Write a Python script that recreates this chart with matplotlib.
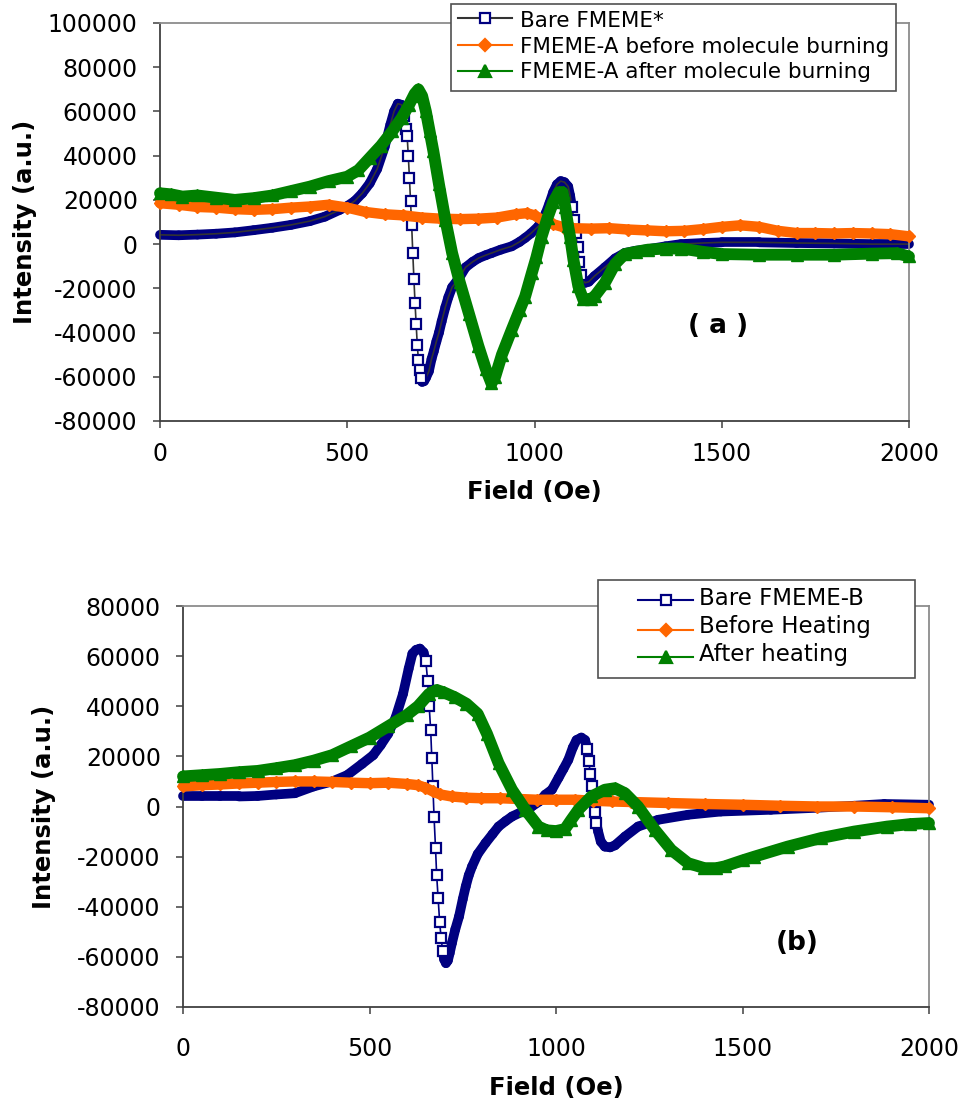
import numpy as np
import matplotlib
matplotlib.use("Agg")
import matplotlib.pyplot as plt
from matplotlib.collections import LineCollection
from matplotlib.lines import Line2D
from matplotlib.patches import Rectangle

# ---------------- panel (a) ----------------
field_a_bare = [0, 50, 100, 150, 200, 250, 300, 350, 400, 440, 480, 500, 520, 540, 560, 580,
                600, 615, 625, 635, 645, 652, 656, 660, 663, 666, 669, 672, 675, 678, 681, 684,
                687, 690, 693, 696, 700, 705, 710, 718, 725, 731, 738, 745, 752, 762, 770, 780,
                800, 816, 835, 851, 870, 886, 910, 939, 960, 975, 990, 1010, 1020, 1030, 1040,
                1050, 1060, 1070, 1080, 1090, 1095, 1100, 1105, 1110, 1115, 1120, 1125, 1135,
                1145, 1160, 1188, 1215, 1241, 1270, 1303, 1350, 1391, 1450, 1500, 1600, 1700,
                1800, 1900, 2000]
intensity_a_bare = [4200, 4000, 4300, 4700, 5300, 6300, 7400, 8700, 10400, 12400, 15500, 17200,
                    19500, 23000, 27500, 34000, 44000, 54000, 60000, 63500, 63000, 58000, 52000,
                    48700, 40000, 30100, 19300, 8700, -4100, -15800, -26700, -36200, -45600,
                    -52400, -57000, -60500, -62300, -62000, -60500, -57500, -52000, -48500,
                    -44000, -40000, -35000, -28500, -24000, -19500, -15000, -10500, -8000, -6300,
                    -5000, -4000, -2500, -1000, 1000, 2800, 4800, 8000, 10500, 14000, 18500,
                    23500, 27000, 28500, 28000, 26000, 22000, 17000, 11000, 5000, -1500, -8000,
                    -14000, -17500, -17000, -14500, -10500, -6500, -4000, -3000, -2300, -1000, 0,
                    500, 800, 800, 500, 300, 0, 0]

field_a_before = [0, 50, 100, 150, 200, 250, 300, 350, 400, 450, 500, 550, 600, 650, 700, 750,
                  800, 850, 900, 950, 980, 1000, 1020, 1050, 1080, 1100, 1150, 1200, 1250, 1300,
                  1350, 1400, 1450, 1500, 1550, 1600, 1650, 1700, 1750, 1800, 1850, 1900, 1950,
                  2000]
intensity_a_before = [18500, 17800, 16800, 16500, 15800, 15500, 15800, 16500, 17000, 17800,
                      16500, 14500, 13500, 13000, 12000, 11500, 11300, 11500, 12000, 13500,
                      14000, 13000, 11000, 9000, 7500, 7200, 7000, 7200, 6600, 6200, 5800, 6000,
                      6800, 7800, 8500, 7800, 6000, 5000, 5000, 4800, 5000, 4800, 4500, 3500]

field_a_after = [0, 30, 60, 100, 150, 200, 250, 300, 350, 400, 450, 500, 530, 560, 590, 620, 645,
                 665, 680, 690, 700, 710, 720, 730, 745, 762, 780, 800, 825, 850, 870, 885, 895,
                 913, 939, 960, 975, 993, 1005, 1019, 1035, 1050, 1065, 1075, 1082, 1090, 1095,
                 1104, 1117, 1130, 1150, 1161, 1188, 1215, 1241, 1270, 1303, 1350, 1392, 1450,
                 1500, 1600, 1700, 1800, 1900, 1968, 2000]
intensity_a_after = [23000, 22500, 21500, 22000, 21000, 20000, 20800, 22000, 24000, 26000, 28500,
                     30500, 33500, 39000, 44500, 51000, 57000, 63000, 68000, 70000, 67000, 60000,
                     51000, 42000, 27000, 11000, -4000, -17000, -31500, -46000, -56500, -63000,
                     -60000, -50000, -38800, -30000, -23700, -13000, -6000, 3400, 12000, 19000,
                     23500, 23500, 17000, 8000, 3400, -7100, -19000, -25000, -24800, -23500,
                     -17500, -9000, -4500, -3500, -2500, -2000, -2000, -3500, -4500, -4800, -4800,
                     -4800, -4300, -4100, -5600]

# ---------------- panel (b) ----------------
field_b_bare = [0, 50, 100, 150, 200, 250, 300, 350, 400, 440, 480, 510, 530, 550, 570, 590, 605,
                615, 625, 635, 645, 651, 656, 660, 664, 667, 670, 673, 677, 680, 684, 688, 692,
                696, 700, 705, 710, 715, 721, 730, 740, 750, 758, 766, 775, 790, 811, 830, 846,
                865, 882, 910, 935, 955, 971, 989, 1007, 1020, 1033, 1045, 1055, 1068, 1078,
                1084, 1088, 1092, 1096, 1100, 1104, 1108, 1113, 1120, 1131, 1145, 1158, 1185,
                1220, 1274, 1354, 1442, 1576, 1700, 1800, 1880, 2000]
intensity_b_bare = [4000, 4000, 4000, 4000, 4200, 4800, 5300, 8000, 10000, 12500, 17000, 20500,
                    24500, 29000, 35500, 45000, 55000, 61000, 62500, 63000, 61500, 58000, 50000,
                    40000, 30600, 19300, 8000, -4000, -16600, -27300, -36600, -46000, -52500,
                    -57500, -61000, -62500, -61500, -58500, -54500, -49000, -43900, -37000,
                    -31900, -27500, -23900, -19000, -14600, -11000, -8000, -5800, -4000, -2000, 0,
                    2000, 4700, 6700, 11500, 15000, 18600, 23500, 26500, 27500, 26500, 23000,
                    18000, 13000, 8000, 3000, -2000, -6500, -10000, -14000, -16000, -16300,
                    -15500, -12000, -8000, -5300, -3300, -2000, -1300, -500, 300, 1000, 700]

field_b_before = [0, 50, 100, 150, 200, 250, 300, 350, 400, 450, 500, 550, 600, 630, 650, 670,
                  690, 720, 760, 800, 850, 900, 950, 1000, 1050, 1100, 1150, 1200, 1300, 1400,
                  1500, 1600, 1700, 1800, 1900, 2000]
intensity_b_before = [8000, 8500, 8800, 9200, 9500, 9800, 10000, 10000, 9800, 9500, 9300, 9500,
                      9000, 8500, 7500, 6000, 4800, 4000, 3500, 3300, 3300, 3000, 2700, 2700,
                      2700, 2300, 2000, 1800, 1400, 1000, 700, 300, 0, 0, -300, -700]

field_b_after = [0, 50, 100, 150, 200, 250, 300, 350, 400, 450, 500, 550, 600, 630, 660, 680,
                 700, 730, 760, 790, 815, 846, 882, 918, 953, 975, 1000, 1024, 1040, 1060, 1095,
                 1131, 1158, 1185, 1220, 1265, 1309, 1354, 1398, 1430, 1452, 1500, 1532, 1621,
                 1710, 1799, 1888, 1950, 2000]
intensity_b_after = [12000, 12500, 13000, 13700, 14200, 15300, 16500, 18300, 20500, 24000, 27500,
                     32000, 36500, 40000, 45000, 46500, 45500, 43500, 41000, 37000, 29000, 17300,
                     6700, -1300, -8000, -9500, -9800, -9000, -5500, -1300, 4000, 6700, 7300,
                     5300, 0, -9300, -17300, -22600, -24600, -24600, -23900, -21500, -20000,
                     -16000, -12600, -10000, -8000, -7000, -6600]

labels_a = ["Bare FMEME*", "FMEME-A before molecule burning", "FMEME-A after molecule burning"]
labels_b = ["Bare FMEME-B", "Before Heating", "After heating"]
x_ticks = [0, 500, 1000, 1500, 2000]
y_ticks_a = list(range(-80000, 100001, 20000))
y_ticks_b = list(range(-80000, 80001, 20000))

NAVY = "#000080"
ORANGE = "#FF6600"
GREEN = "#008000"
DARK = "#404040"
GREY = "#8c8c8c"

W, H = 964, 1111
plt.rcParams["font.family"] = ["DejaVu Sans"]
fig = plt.figure(figsize=(W / 100, H / 100), dpi=100)
fig.patch.set_facecolor("white")


def px_box(left, top, right, bottom):
    return [left / W, 1 - bottom / H, (right - left) / W, (bottom - top) / H]


def setup_axes(box, yticks, ylim, xpad, ylab_x, xlab_y):
    ax = fig.add_axes(px_box(*box))
    ax.set_xlim(0, 2000)
    ax.set_ylim(*ylim)
    ax.set_xticks(x_ticks)
    ax.set_xticklabels([str(t) for t in x_ticks])
    ax.set_yticks(yticks)
    ax.set_yticklabels([str(t) for t in yticks])
    for side in ("left", "bottom"):
        ax.spines[side].set_color(DARK)
        ax.spines[side].set_linewidth(1.3)
    for side in ("top", "right"):
        ax.spines[side].set_color(GREY)
        ax.spines[side].set_linewidth(1.3)
    ax.tick_params(axis="both", direction="out", length=5, width=1.1, color=DARK,
                   labelsize=17, labelcolor="black")
    ax.tick_params(axis="y", pad=11)
    ax.tick_params(axis="x", pad=xpad)
    ax.set_xlabel("Field (Oe)", fontsize=17.5, fontweight="bold")
    ax.set_ylabel("Intensity (a.u.)", fontsize=17.5, fontweight="bold")
    ax.xaxis.set_label_coords(0.5, xlab_y)
    ax.xaxis.label.set_va("center")
    ax.yaxis.set_label_coords(ylab_x, 0.5)
    ax.yaxis.label.set_va("center")
    return ax


def draw_bare(ax, x, y, line_color):
    """Hollow squares: where neighbouring points overlap they merge into a solid band."""
    x = np.asarray(x, float)
    y = np.asarray(y, float)
    pts = ax.transData.transform(np.column_stack([x, y]))
    dxp = np.abs(np.diff(pts[:, 0]))
    dyp = np.abs(np.diff(pts[:, 1]))
    steep = dyp / np.maximum(dxp, 1e-6) > 6
    segs = np.stack([np.column_stack([x[:-1], y[:-1]]),
                     np.column_stack([x[1:], y[1:]])], axis=1)
    band = LineCollection(segs[~steep], colors=NAVY, linewidths=7,
                          capstyle="round", zorder=2, clip_on=False)
    ax.add_collection(band)
    ax.plot(x, y, color=line_color, lw=1.2, zorder=2.5, clip_on=False)
    show = np.zeros(len(x), bool)
    show[:-1] |= steep
    show[1:] |= steep
    ax.plot(x[show], y[show], ls="none", marker="s", ms=7, mfc="white", mec=NAVY,
            mew=1.6, zorder=3, clip_on=False)


def draw_filled(ax, x, y, color, marker, ms, lw, z):
    ax.plot(x, y, color=color, lw=lw, marker=marker, ms=ms, mec=color, mfc=color,
            solid_joinstyle="round", solid_capstyle="round", zorder=z, clip_on=False)


def draw_legend(box, rows, baselines, hx0, hx1, tx, labels, bare_line, fs):
    l, t, r, b = box
    fig.add_artist(Rectangle((l / W, 1 - b / H), (r - l) / W, (b - t) / H,
                             transform=fig.transFigure, facecolor="white",
                             edgecolor="#505050", lw=1.2, zorder=10))
    styles = [(bare_line, "s", "white", NAVY, 7),
              (ORANGE, "D", ORANGE, ORANGE, 6.5),
              (GREEN, "^", GREEN, GREEN, 8.5)]
    for (lc, mk, mf, me, ms), yr, yb, lab in zip(styles, rows, baselines, labels):
        yy = 1 - yr / H
        fig.add_artist(Line2D([hx0 / W, hx1 / W], [yy, yy], transform=fig.transFigure,
                              color=lc, lw=1.5, zorder=11))
        fig.add_artist(Line2D([(hx0 + hx1) / 2 / W], [yy], transform=fig.transFigure,
                              ls="none", marker=mk, ms=ms, mfc=mf, mec=me, mew=1.6,
                              zorder=12))
        fig.text(tx / W, 1 - yb / H, lab, fontsize=fs, va="baseline", ha="left",
                 zorder=12)


# panel (a)
ax_a = setup_axes((160, 23, 909, 421), y_ticks_a, (-80000, 100000), 10, -0.180, -0.178)
draw_bare(ax_a, field_a_bare, intensity_a_bare, "#333333")
draw_filled(ax_a, field_a_before, intensity_a_before, ORANGE, "D", 6, 7.5, 4)
draw_filled(ax_a, field_a_after, intensity_a_after, GREEN, "^", 8, 8.5, 5)
ax_a.text(0.745, 0.239, "( a )", transform=ax_a.transAxes, ha="center", va="center",
          fontsize=19, fontweight="bold")
draw_legend((451, 4, 896, 91), [18.3, 45, 70.7], [27.3, 53.3, 78.3], 458, 512, 520,
            labels_a, "#333333", 15.5)

# panel (b)
ax_b = setup_axes((183, 606, 929, 1007), y_ticks_b, (-80000, 80000), 16.5, -0.1863, -0.202)
draw_bare(ax_b, field_b_bare, intensity_b_bare, NAVY)
draw_filled(ax_b, field_b_before, intensity_b_before, ORANGE, "D", 6, 7.5, 4)
draw_filled(ax_b, field_b_after, intensity_b_after, GREEN, "^", 8, 8.5, 5)
ax_b.text(0.823, 0.160, "(b)", transform=ax_b.transAxes, ha="center", va="center",
          fontsize=19, fontweight="bold")
draw_legend((598, 580, 915, 678), [600, 630, 657], [605, 633.3, 660.7], 638, 693, 699,
            labels_b, NAVY, 16.5)

fig.savefig("out.png", dpi=100, facecolor="white")
